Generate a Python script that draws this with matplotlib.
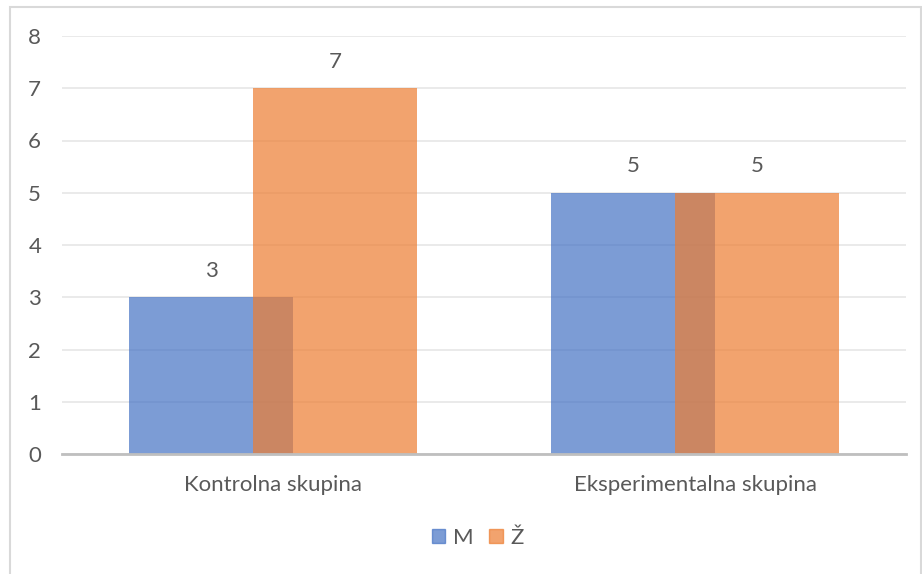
import matplotlib.pyplot as plt
from matplotlib.patches import Rectangle, Patch
import numpy as np

plt.rcParams['font.family'] = ['Lato', 'DejaVu Sans']

skupine = ['Kontrolna skupina', 'Eksperimentalna skupina']
moski = [3, 5]
zenske = [7, 5]

fig = plt.figure(figsize=(9.22, 5.74), dpi=100)
ax = fig.add_axes([62/922, 1-454/574, (906-62)/922, (454-36)/574])

x = np.arange(len(skupine))
w = 0.39
off = 0.147
modra = '#4472C4'
oranzna = '#ED7D31'
b1 = ax.bar(x - off, moski, w, color=modra, alpha=0.7, zorder=2)
b2 = ax.bar(x + off, zenske, w, color=oranzna, alpha=0.7, zorder=3)

siva = '#595959'
fs = 16
for bars in (b1, b2):
    for b in bars:
        ax.annotate(str(int(b.get_height())), (b.get_x() + b.get_width()/2, b.get_height()),
                    xytext=(0, 12), textcoords='offset points', ha='center', va='bottom',
                    fontsize=fs, color=siva)

ax.set_xlim(-0.5, 1.5)
ax.set_ylim(0, 8)
ax.set_yticks(range(0, 9))
ax.set_xticks(x)
ax.set_xticklabels(skupine)
ax.yaxis.grid(True, color='#E6E6E6', lw=1.2, zorder=0)
ax.set_axisbelow(True)
for s in ['top', 'right', 'left']:
    ax.spines[s].set_visible(False)
ax.spines['bottom'].set_color('#BFBFBF')
ax.spines['bottom'].set_linewidth(2)
ax.spines['bottom'].set_zorder(4)
ax.tick_params(axis='both', length=0, labelsize=fs, colors=siva)
ax.tick_params(axis='y', pad=15)
ax.tick_params(axis='x', pad=15)

fig.patches.append(Rectangle((10/922, -0.01), (921-10)/922, 1-7/574 + 0.01, transform=fig.transFigure,
                             fill=False, edgecolor='#D9D9D9', lw=1.5))

fig.legend(handles=[Patch(color=modra, alpha=0.7, label='M'), Patch(color=oranzna, alpha=0.7, label='Ž')],
           loc='center', bbox_to_anchor=(478/922, 1-538/574), ncol=2, frameon=False,
           fontsize=fs, labelcolor=siva, handlelength=0.6, handleheight=0.6, handletextpad=0.35,
           columnspacing=0.7)

fig.savefig('out.png', dpi=100)
